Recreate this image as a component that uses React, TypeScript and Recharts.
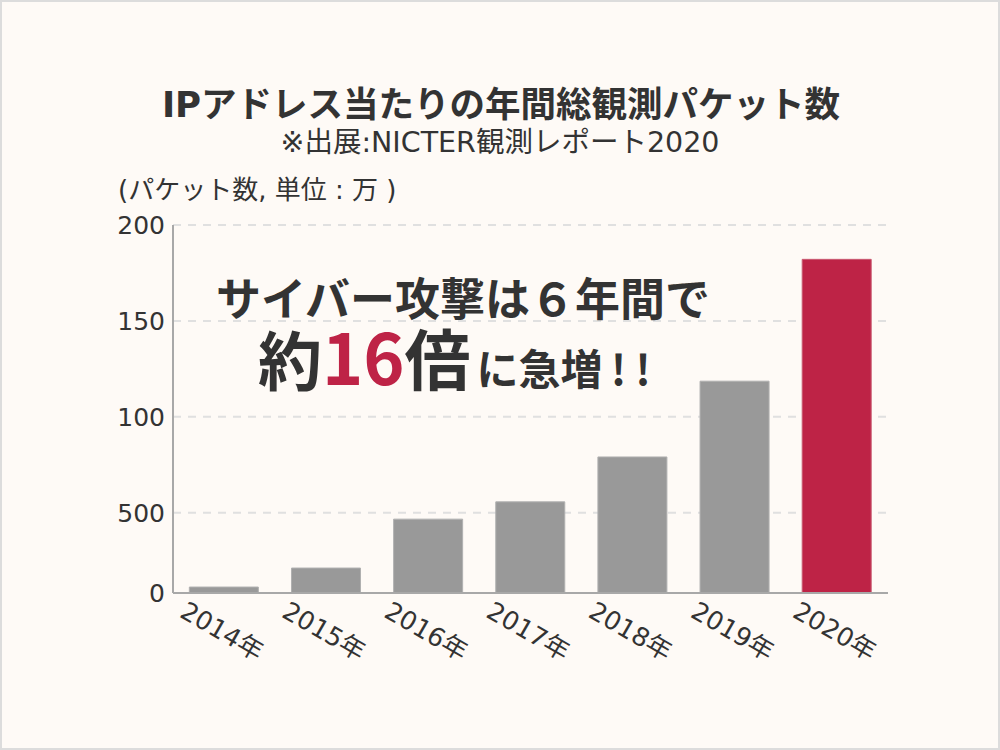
import React from 'react'
import { BarChart, Bar, XAxis, YAxis, CartesianGrid, Cell } from 'recharts'

const categories = ['2014年', '2015年', '2016年', '2017年', '2018年', '2019年', '2020年']
const packets = [11.3, 21.2, 46.7, 55.7, 79.1, 118.6, 182.1]
// the source axis starts a little above zero and its 50 tick reads "500"
const yTicks = [8.2, 50, 100, 150, 200]
const yTickLabels = ['0', '500', '100', '150', '200']

const FONT = '"Noto Sans CJK JP", "Noto Sans", sans-serif'
const WIDE = '"DejaVu Sans", "Noto Sans CJK JP", sans-serif'
const GRAY = '#999999'
const RED = '#be2346'

const chartData = categories.map((year, i) => ({ year, packets: packets[i] }))

function YearTick({ x, y, payload }: any) {
  return (
    <g transform={`translate(${x - 2},${y + 30}) rotate(30)`}>
      <text
        textAnchor="middle"
        dominantBaseline="central"
        fontSize={25.5}
        fill="#333"
        fontFamily={WIDE}
      >
        {payload.value}
      </text>
    </g>
  )
}

export default function App() {
  return (
    <div
      style={{
        position: 'relative',
        width: 1000,
        height: 750,
        background: '#fefaf6',
        border: '2px solid #dcdcdc',
        boxSizing: 'border-box',
        fontFamily: FONT,
      }}
    >
      <style>{`body{margin:0}`}</style>
      <BarChart
        width={996}
        height={746}
        data={chartData}
        margin={{ top: 223, right: 110, left: 0, bottom: 95 }}
        barCategoryGap="16%"
        style={{ position: 'absolute', left: 0, top: 0 }}
      >
        <CartesianGrid
          vertical={false}
          stroke="#e0e0e0"
          strokeWidth={2}
          strokeDasharray="8 7"
          horizontalValues={[50, 100, 150, 200]}
        />
        <XAxis
          dataKey="year"
          height={60}
          interval={0}
          tickLine={false}
          axisLine={{ stroke: '#a8a8a8', strokeWidth: 2 }}
          tick={<YearTick />}
        />
        <YAxis
          width={171}
          type="number"
          domain={[8.2, 200]}
          ticks={yTicks}
          allowDataOverflow
          tickLine={false}
          axisLine={{ stroke: '#a8a8a8', strokeWidth: 2 }}
          tickFormatter={(v: number) => yTickLabels[yTicks.indexOf(v)]}
          tick={{ fontSize: 25, fill: '#333', fontFamily: WIDE }}
        />
        <Bar dataKey="packets" isAnimationActive={false} strokeWidth={1}>
          {chartData.map((d, i) => (
            <Cell
              key={d.year}
              fill={i === chartData.length - 1 ? RED : GRAY}
              stroke={i === chartData.length - 1 ? '#c95a72' : '#b0b0b0'}
            />
          ))}
        </Bar>
      </BarChart>

      <svg
        width={996}
        height={746}
        style={{ position: 'absolute', left: 0, top: 0, pointerEvents: 'none' }}
        fontFamily={FONT}
      >
        <text x={499} y={115} textAnchor="middle" fontSize={35.5} fontWeight={700} fill="#333" fontFamily={WIDE}>
          IPアドレス当たりの年間総観測パケット数
        </text>
        <text x={498} y={150} textAnchor="middle" fontSize={28.5} fill="#333" fontFamily={WIDE}>
          ※出展:NICTER観測レポート2020
        </text>
        <text x={116} y={197} fontSize={26} fill="#333" fontFamily={WIDE}>
          (パケット数, 単位 : 万 )
        </text>
        <text x={461} y={314} textAnchor="middle" fontSize={45} fontWeight={700} fill="#333">
          サイバー攻撃は６年間で
        </text>
        <text x={256} y={383} fontWeight={700} fill="#333">
          <tspan fontSize={64}>約</tspan>
          <tspan fontSize={70} fill={RED}>16</tspan>
          <tspan fontSize={66}>倍</tspan>
          <tspan fontSize={42} dx={6}>に急増</tspan>
          <tspan fontSize={42} dx={8}>!</tspan>
          <tspan fontSize={42} dx={9}>!</tspan>
        </text>
      </svg>
    </div>
  )
}
